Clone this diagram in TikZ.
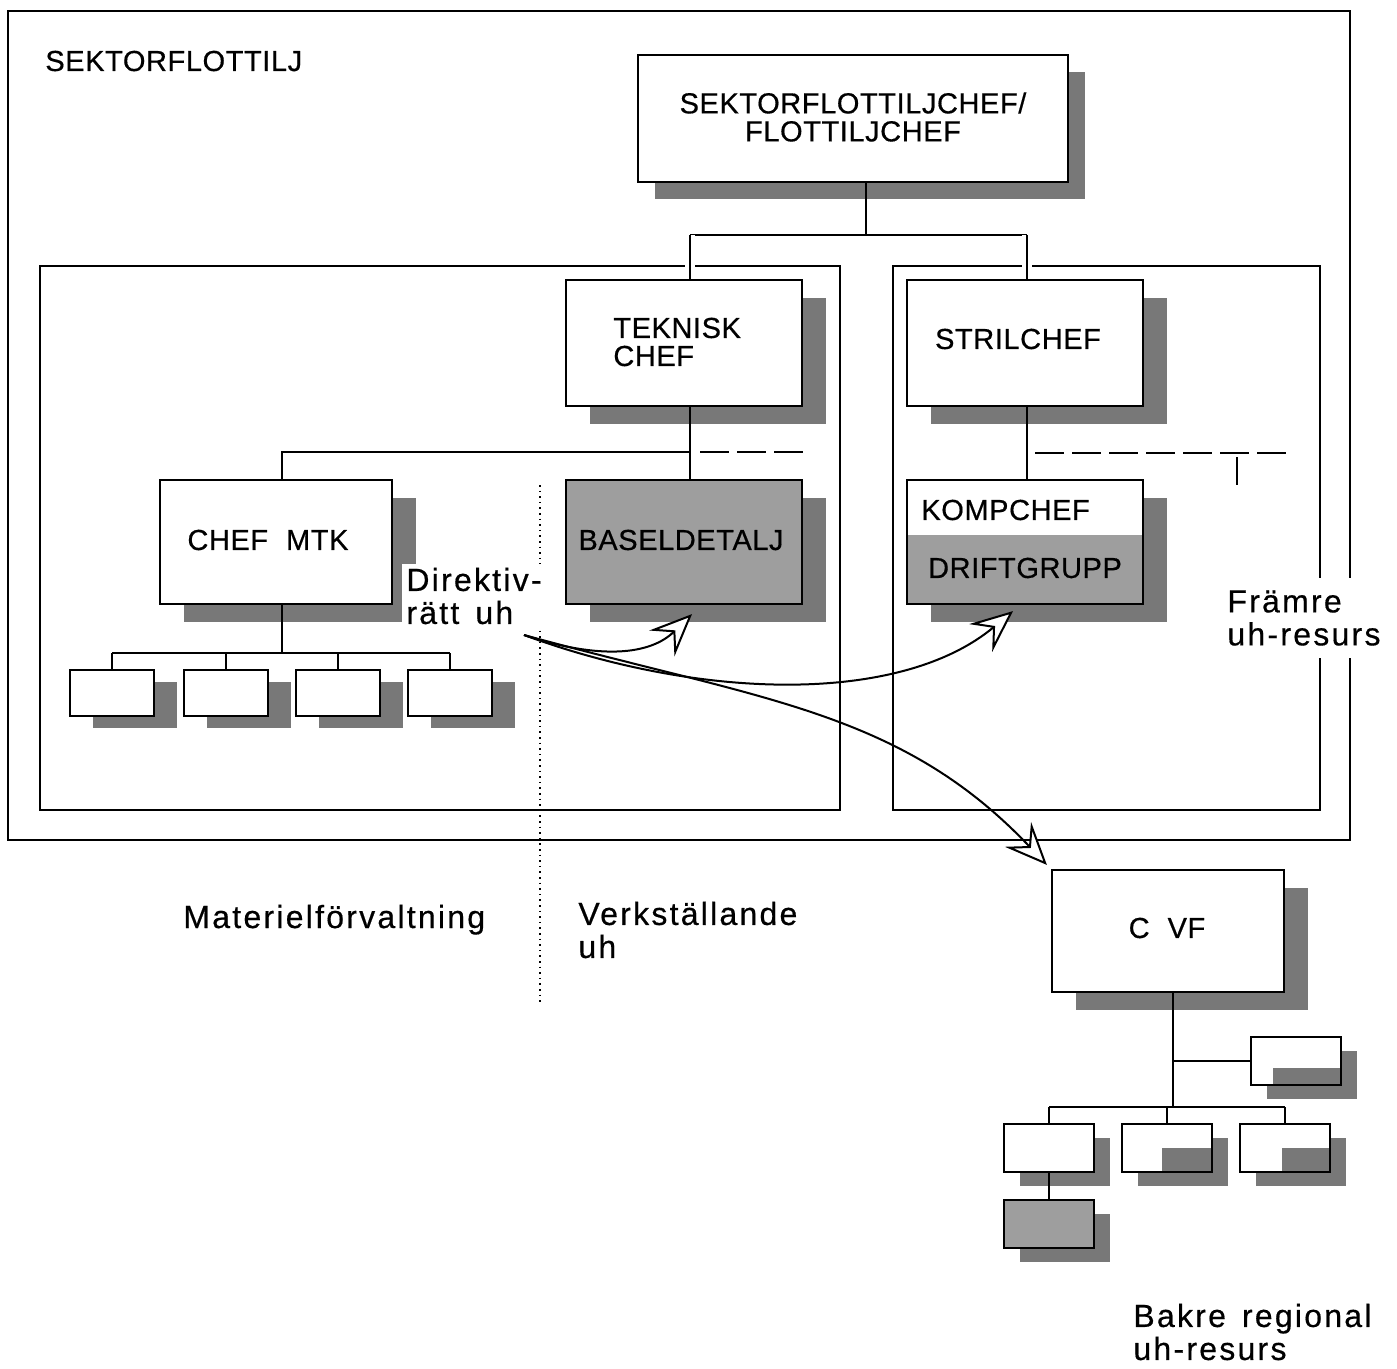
\documentclass[tikz,border=0pt]{standalone}
\usepackage{fontspec}
\setmainfont[FakeBold=0.5]{Liberation Sans}
\usetikzlibrary{shadows,arrows.meta}
\definecolor{shd}{gray}{0.47}
\definecolor{fillg}{gray}{0.62}
\begin{document}
\begin{tikzpicture}[x=0.5pt,y=-0.5pt,
  box/.style={draw, line width=1.1pt, fill=white, inner sep=0pt},
  shad/.style 2 args={general shadow={fill=shd, shadow xshift=#1, shadow yshift=#2}},
  big/.style={box, shad={12pt}{-9pt}, minimum width=118pt, minimum height=62pt},
  smallbox/.style={box, shad={11.5pt}{-6pt}, minimum width=42pt, minimum height=23pt},
  tinybox/.style={box, shad={8pt}{-7pt}, minimum width=45pt, minimum height=24pt},
  frame/.style={draw, line width=0.9pt},
  conn/.style={line width=1pt},
  gapc/.style={conn, preaction={draw=white, line width=5pt}},
  dashc/.style={line width=1pt, dash pattern=on 14.5pt off 4pt},
  captxt/.style={font=\fontsize{14.5}{14}\selectfont\addfontfeatures{LetterSpace=2}, inner sep=0pt},
  lab/.style={font=\fontsize{16}{16.5}\selectfont\addfontfeatures{LetterSpace=7}, align=left, inner sep=0pt},
  arr/.style={line width=1pt, -{Stealth[open, fill=white, length=21pt, width=18pt, inset=8pt]}},
]
\useasboundingbox (0,0) rectangle (1397,1369);

% frames
\draw[frame] (8,11) rectangle (1350,840);
\draw[frame] (40,266) rectangle (840,810);
\draw[frame] (893,266) rectangle (1320,810);
\draw[line width=0.8pt, dotted] (540,485) -- (540,1005);

% boxes
\node[box, shad={8.5pt}{-8.5pt}, minimum width=215pt, minimum height=63.5pt] (top) at (853,118.5) {};
\node[big, minimum height=63pt] (tek) at (684,343) {};
\node[big, minimum height=63pt] (stril) at (1025,343) {};
\node[big, minimum width=116pt] (mtk) at (276,542) {};
\node[big, fill=fillg] (bas) at (684,542) {};
\node[big, path picture={\fill[fillg] ([yshift=3.5pt]path picture bounding box.west) rectangle (path picture bounding box.south east);}] (komp) at (1025,542) {};
\node[smallbox] (s1) at (112,693) {};
\node[smallbox] (s2) at (226,693) {};
\node[smallbox] (s3) at (338,693) {};
\node[smallbox] (s4) at (450,693) {};
\node[big, minimum width=116pt, minimum height=61pt] (cvf) at (1168,931) {};
\node[tinybox, path picture={\fill[shd] ([xshift=-11.5pt,yshift=-3.5pt]path picture bounding box.center) rectangle (path picture bounding box.south east);}] (r1) at (1296,1061) {};
\node[tinybox] (b1) at (1049,1148) {};
\node[tinybox, path picture={\fill[shd] ([xshift=-2.5pt]path picture bounding box.center) rectangle (path picture bounding box.south east);}] (b2) at (1167,1148) {};
\node[tinybox, path picture={\fill[shd] ([xshift=-1.5pt]path picture bounding box.center) rectangle (path picture bounding box.south east);}] (b3) at (1285,1148) {};
\node[tinybox, fill=fillg] (b4) at (1049,1224) {};

% attachment points
\coordinate (topb) at ([xshift=6.5pt]top.south);
\coordinate (tekt) at ([xshift=3pt]tek.north);
\coordinate (tekb) at ([xshift=3pt]tek.south);
\coordinate (bast) at ([xshift=3pt]bas.north);
\coordinate (strt) at ([xshift=1pt]stril.north);
\coordinate (strb) at ([xshift=1pt]stril.south);
\coordinate (kompt) at ([xshift=1pt]komp.north);
\coordinate (mtkt) at ([xshift=3pt]mtk.north);
\coordinate (mtkb) at ([xshift=3pt]mtk.south);
\coordinate (cvfb) at ([xshift=2.5pt]cvf.south);

% connectors top
\coordinate (bar) at (866,235);
\draw[conn] (topb) -- (bar);
\draw[conn] (tekt |- bar) -- (strt |- bar);
\draw[gapc] (tekt |- bar) -- (tekt);
\draw[gapc] (strt |- bar) -- (strt);

% teknisk chef level
\coordinate (lbar) at (282,452);
\draw[conn] (tekb) -- (bast);
\draw[conn] (mtkt) -- (lbar) -- (lbar -| tekb);
\draw[dashc] (700,452) -- (805,452);
\draw[conn] (strb) -- (kompt);
\draw[dashc] (1035,453) -- (1290,453);
\draw[conn] (1237,457) -- (1237,485);

% mtk subordinates
\coordinate (mbar) at (282,653);
\draw[conn] (mtkb) -- (mbar);
\draw[conn] (s1.north |- mbar) -- (s4.north |- mbar);
\foreach \n in {s1,s2,s3,s4} \draw[conn] (\n.north |- mbar) -- (\n.north);

% C VF subordinates
\coordinate (cbar) at (1173,1107);
\draw[conn] (cvfb) -- (cbar);
\draw[conn] (cbar |- r1.west) -- (r1.west);
\draw[conn] (b1.north |- cbar) -- (b3.north |- cbar);
\foreach \n in {b1,b2,b3} \draw[conn] (\n.north |- cbar) -- (\n.north);
\draw[conn] (b1.south) -- (b4.north);

% texts
\node[captxt, anchor=base west] (tsek) at (45,71) {SEKTORFLOTTILJ};
\node[captxt, align=center] (ttop) at (853,117) {SEKTORFLOTTILJCHEF/\\FLOTTILJCHEF};
\node[captxt, align=left, anchor=west] (ttek) at (613,342) {TEKNISK\\CHEF};
\node[captxt] (tstril) at (1018,339) {STRILCHEF};
\node[captxt] (tmtk) at (268,540) {CHEF\hspace{9pt}MTK};
\node[captxt] (tbas) at (681,540) {BASELDETALJ};
\node[captxt, anchor=west] (tkomp) at (921,510) {KOMPCHEF};
\node[captxt] (tdrift) at (1025,568) {DRIFTGRUPP};
\node[captxt] (tcvf) at (1167,928) {C\hspace{9pt}VF};

\node[lab, anchor=west, fill=white, inner xsep=2pt, inner ysep=2pt] (tdir) at (402,596) {Direktiv-\\rätt\hspace{8pt}uh};
\node[lab, anchor=base west] (tmat) at (183,928) {Materielförvaltning};
\node[lab, anchor=west] (tverk) at (578,930) {Verkställande\\uh};
\node[lab, anchor=west, fill=white, inner xsep=2pt, inner ysep=6pt] (tfram) at (1223,618) {Främre\\uh-resurs};
\node[lab, anchor=west] (tbak) at (1133,1332) {Bakre\hspace{8pt}regional\\uh-resurs};

% arrows
\coordinate (src) at (524,635);
\draw[arr] (src) .. controls (600,660) and (650,655) .. ([xshift=4pt,yshift=-4.5pt]bas.south);
\draw[arr] (src) .. controls (700,700) and (900,705) .. ([xshift=-6pt,yshift=-3pt]komp.south);
\draw[arr] (src) .. controls (760,700) and (900,710) .. ([xshift=-2pt,yshift=2pt]cvf.north west);
\end{tikzpicture}
\end{document}
